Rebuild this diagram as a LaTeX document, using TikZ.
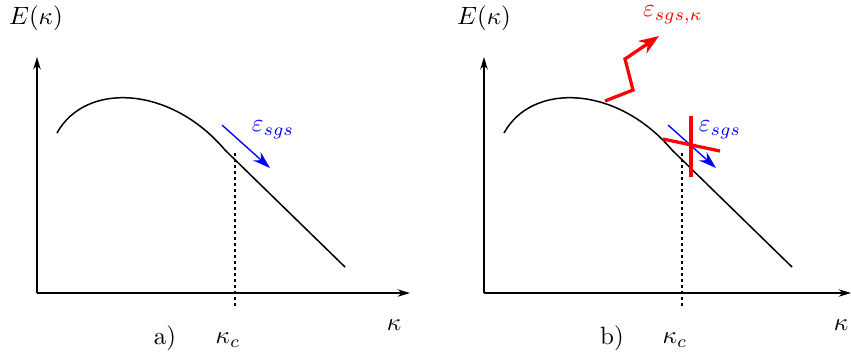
\documentclass[tikz,border=0pt]{standalone}
\usetikzlibrary{arrows.meta}
\begin{document}
\begin{tikzpicture}[x=0.4pt,y=-0.4pt,
  axis/.style={line width=0.5pt,-{Stealth[length=5pt,width=3pt]}},
  curve/.style={line width=0.6pt},
  guide/.style={line width=0.5pt,dash pattern=on 1.2pt off 1.2pt},
  flux/.style={blue,line width=0.55pt,-{Stealth[length=7pt,width=4.5pt]}},
  bad/.style={red,line width=1.3pt},
  lbl/.style={inner sep=0pt}]
\useasboundingbox (0,0) rectangle (851,356);
% ---------- panel a ----------
\coordinate (oa) at (37,293);
\coordinate (ya) at (37,57);
\coordinate (xa) at (410,293);
\draw[axis] (oa) -- (ya);
\draw[axis] (oa) -- (xa);
\draw[curve] (57,133) .. controls (85,82) and (170,85) .. (225,150) -- (345,267);
\coordinate (da1) at (235,153);
\coordinate (da2) at (235,307);
\draw[guide] (da1) -- (da2);
\coordinate (ba1) at (222,125);
\coordinate (ba2) at (270,168);
\draw[flux] (ba1) -- (ba2);
\node[lbl,blue] (ea) at (273,130) {$\varepsilon_{sgs}$};
\node[lbl] (Ea) at (36,18) {$E(\kappa)$};
\node[lbl] (ka) at (394,325) {$\kappa$};
\node[lbl] (la) at (165,338) {a)};
\node[lbl] (kca) at (228,340) {$\kappa_c$};
% ---------- panel b ----------
\coordinate (ob) at (484,293);
\coordinate (yb) at (484,57);
\coordinate (xb) at (851,293);
\draw[axis] (ob) -- (yb);
\draw[axis] (ob) -- (xb);
\draw[curve] (504,133) .. controls (532,82) and (617,85) .. (672,150) -- (792,267);
\coordinate (db1) at (682,153);
\coordinate (db2) at (682,307);
\draw[guide] (db1) -- (db2);
\coordinate (bb1) at (668,125);
\coordinate (bb2) at (716,168);
\draw[flux] (bb1) -- (bb2);
\node[lbl,blue] (eb) at (720,130) {$\varepsilon_{sgs}$};
% cross
\coordinate (c1) at (691,116);
\coordinate (c2) at (691,177);
\coordinate (c3) at (663,139);
\coordinate (c4) at (720,151);
\draw[bad] (c1) -- (c2);
\draw[bad] (c3) -- (c4);
% zigzag
\coordinate (z0) at (605,101);
\coordinate (z1) at (633,90);
\coordinate (z2) at (625,59);
\coordinate (z3) at (659,36);
\draw[bad,-{Stealth[length=8pt,width=6pt]}] (z0) -- (z1) -- (z2) -- (z3);
\node[lbl,red] (ek) at (673,15) {$\varepsilon_{sgs,\kappa}$};
\node[lbl] (Eb) at (484,18) {$E(\kappa)$};
\node[lbl] (kb) at (841,325) {$\kappa$};
\node[lbl] (lb) at (612,338) {b)};
\node[lbl] (kcb) at (675,340) {$\kappa_c$};
\end{tikzpicture}
\end{document}
